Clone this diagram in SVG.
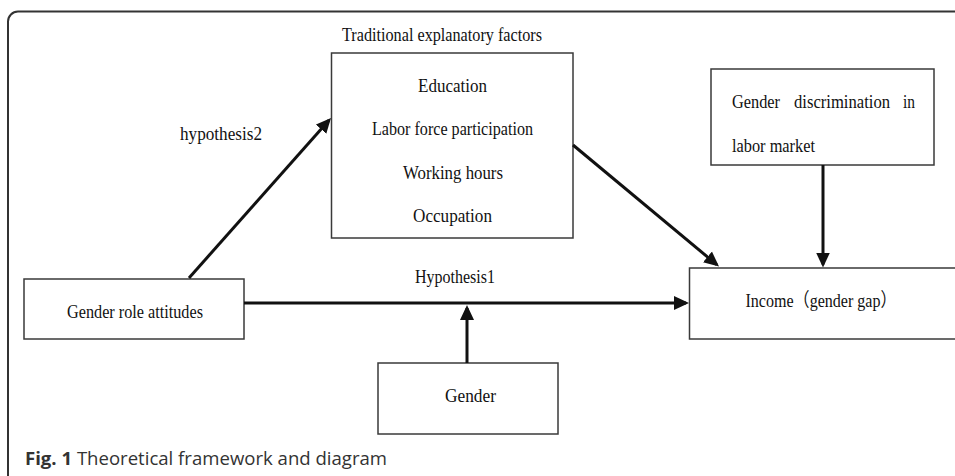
<svg xmlns="http://www.w3.org/2000/svg" width="955" height="476" viewBox="0 0 955 476">
<style>
.box{fill:#fff;stroke:#3a3a3a;stroke-width:1.5}
.t{font-family:"Liberation Serif","Noto Sans CJK SC",serif;font-size:19px;fill:#111}
.arr{stroke:#111;stroke-width:3;fill:none;marker-end:url(#ah)}
.cap{font-family:"Open Sans","Noto Sans",sans-serif;font-size:18px;fill:#333}
</style>
<defs>
<marker id="ah" markerUnits="userSpaceOnUse" markerWidth="16" markerHeight="15" refX="12" refY="7" orient="auto" viewBox="0 0 16 14">
<path d="M0,0 L15,7 L0,14 z" fill="#111"/>
</marker>
</defs>
<rect x="8" y="11.5" width="1000" height="500" rx="10" fill="#fff" stroke="#333" stroke-width="2"/>

<g id="traditional">
<text class="t" x="342" y="41" textLength="200" lengthAdjust="spacingAndGlyphs">Traditional explanatory factors</text>
<rect class="box" x="331.5" y="53" width="241.5" height="185"/>
<text class="t" x="418" y="92" textLength="69" lengthAdjust="spacingAndGlyphs">Education</text>
<text class="t" x="372" y="135" textLength="161" lengthAdjust="spacingAndGlyphs">Labor force participation</text>
<text class="t" x="403" y="178.5" textLength="100" lengthAdjust="spacingAndGlyphs">Working hours</text>
<text class="t" x="413" y="222" textLength="79" lengthAdjust="spacingAndGlyphs">Occupation</text>
</g>

<g id="discrimination">
<rect class="box" x="711" y="69" width="223" height="96"/>
<text class="t" x="732" y="108" textLength="48" lengthAdjust="spacingAndGlyphs">Gender</text>
<text class="t" x="794" y="108" textLength="96" lengthAdjust="spacingAndGlyphs">discrimination</text>
<text class="t" x="903" y="108" textLength="12" lengthAdjust="spacingAndGlyphs">in</text>
<text class="t" x="732" y="152" textLength="83" lengthAdjust="spacingAndGlyphs">labor market</text>
</g>

<g id="attitudes">
<rect class="box" x="24" y="279" width="220" height="60"/>
<text class="t" x="67" y="318" textLength="136" lengthAdjust="spacingAndGlyphs">Gender role attitudes</text>
</g>

<g id="income">
<rect class="box" x="689.5" y="268" width="300" height="71"/>
<text class="t" x="745.5" y="307" textLength="151" lengthAdjust="spacingAndGlyphs">Income（gender gap）</text>
</g>

<g id="gender">
<rect class="box" x="378" y="363" width="180" height="71"/>
<text class="t" x="445" y="402" textLength="51" lengthAdjust="spacingAndGlyphs">Gender</text>
</g>

<g id="connectors">
<line class="arr" x1="189" y1="278" x2="329" y2="120.2"/>
<line class="arr" x1="573" y1="145" x2="716.7" y2="264.6"/>
<line class="arr" x1="823" y1="165" x2="823" y2="264.5"/>
<line class="arr" x1="244" y1="303" x2="686" y2="303"/>
<line class="arr" x1="467" y1="363" x2="467" y2="308"/>
<text class="t" x="180" y="140" textLength="82" lengthAdjust="spacingAndGlyphs">hypothesis2</text>
<text class="t" x="415" y="283" textLength="80" lengthAdjust="spacingAndGlyphs">Hypothesis1</text>
</g>

<text class="cap" x="25" y="465" textLength="362" lengthAdjust="spacingAndGlyphs"><tspan font-weight="bold">Fig. 1</tspan> Theoretical framework and diagram</text>
</svg>
